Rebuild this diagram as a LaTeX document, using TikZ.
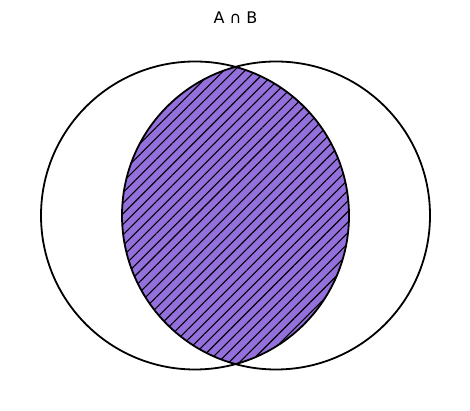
\documentclass[tikz,border=0pt]{standalone}
\usepackage{fontspec}
\setmainfont{DejaVu Sans}
\usetikzlibrary{patterns.meta}
\definecolor{mpurple}{HTML}{9370DB}
\tikzset{circ/.style={draw=black,line width=1.8pt},
  hatchlines/.style={pattern={Lines[distance=7.5pt,angle=45,line width=1.1pt]},pattern color=black}}
\begin{document}
\begin{tikzpicture}[x=1pt,y=1pt]
\useasboundingbox (0,0) rectangle (470,411);
\coordinate (ca) at (195,195.5);
\coordinate (cb) at (276,195.5);
\begin{scope}
\clip (ca) circle (154);
\fill[mpurple] (cb) circle (154);
\fill[hatchlines] (cb) circle (154);
\end{scope}
\node[circle,draw,minimum size=308pt,line width=1.8pt] (A) at (ca) {};
\node[circle,draw,minimum size=308pt,line width=1.8pt] (B) at (cb) {};
\node[font=\fontsize{16}{18}\selectfont] (t) at (235.5,393) {A ∩ B};
\end{tikzpicture}
\end{document}
